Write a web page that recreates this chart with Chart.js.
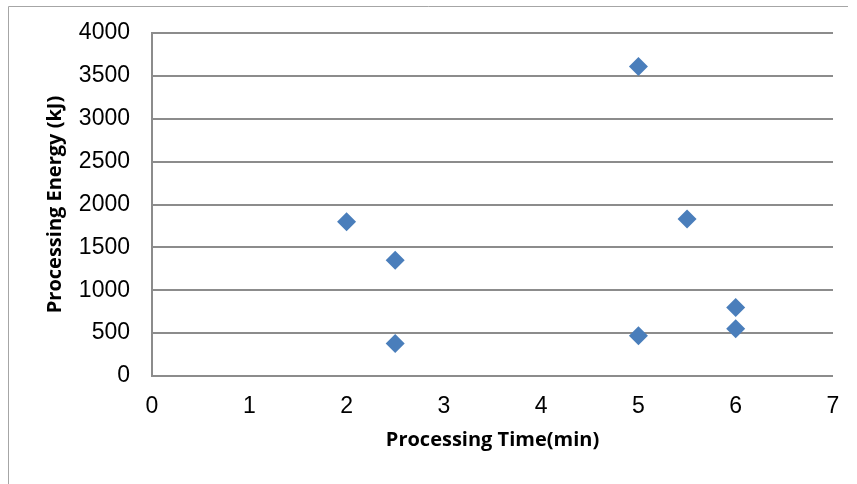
<!DOCTYPE html>
<html>
<head>
<meta charset="utf-8">
<script src="https://cdn.jsdelivr.net/npm/chart.js@4/dist/chart.umd.min.js"></script>
<style>
  html, body { margin: 0; padding: 0; background: #fff; }
  #wrap { position: relative; width: 857px; height: 484px; }
</style>
</head>
<body>
<div id="wrap"><canvas id="scatter" width="857" height="484"></canvas></div>
<script>
// data
var timeMin = [2, 2.5, 2.5, 5, 5, 5.5, 6, 6];
var energyKJ = [1800, 1350, 380, 3610, 470, 1830, 800, 550];
var xTitle = 'Processing Time(min)';
var yTitle = 'Processing Energy (kJ)';

var points = [];
for (var i = 0; i < timeMin.length; i++) {
  points.push({ x: timeMin[i], y: energyKJ[i] });
}

// outer frame like the excel chart border
var framePlugin = {
  id: 'frame',
  beforeDraw: function (chart) {
    var c = chart.ctx;
    c.save();
    c.strokeStyle = '#a6a6a6';
    c.lineWidth = 1;
    c.beginPath();
    c.moveTo(8.5, 484);
    c.lineTo(8.5, 6.5);
    c.lineTo(848, 6.5);
    c.stroke();
    c.restore();
  }
};

var tickFont = { family: '"Liberation Sans", Arial, sans-serif', size: 23 };
var titleFont = { family: '"Open Sans", sans-serif', size: 20, weight: 'bold' };

var ctx = document.getElementById('scatter');
var chart = new Chart(ctx, {
  type: 'scatter',
  data: {
    datasets: [{
      data: points,
      pointStyle: 'rectRot',
      pointRadius: 9.5,
      pointHoverRadius: 9.5,
      backgroundColor: '#4a7ebb',
      borderColor: '#4a7ebb',
      borderWidth: 0
    }]
  },
  plugins: [framePlugin],
  options: {
    responsive: false,
    animation: false,
    layout: {
      padding: { left: 43, top: 33, right: 24, bottom: 32 }
    },
    plugins: {
      legend: { display: false },
      tooltip: { enabled: false }
    },
    scales: {
      x: {
        type: 'linear',
        min: 0,
        max: 7,
        ticks: {
          stepSize: 1,
          padding: 17,
          color: '#000',
          font: tickFont
        },
        grid: { display: false, drawTicks: false },
        border: { display: false },
        title: {
          display: true,
          text: xTitle,
          color: '#000',
          padding: 0,
          font: titleFont
        },
        afterFit: function (scale) { scale.height = 76; }
      },
      y: {
        min: 0,
        max: 4000,
        ticks: {
          stepSize: 500,
          padding: 22,
          color: '#000',
          font: tickFont,
          callback: function (v) { return String(v); }
        },
        grid: { color: '#8c8c8c', lineWidth: 2, drawTicks: false },
        border: { display: true, color: '#8c8c8c', width: 2 },
        title: {
          display: true,
          text: yTitle,
          color: '#000',
          padding: 0,
          font: titleFont
        },
        afterFit: function (scale) {
          scale.width = 109;
          scale.paddingTop = 0;
          scale.paddingBottom = 0;
        }
      }
    }
  }
});
</script>
</body>
</html>
